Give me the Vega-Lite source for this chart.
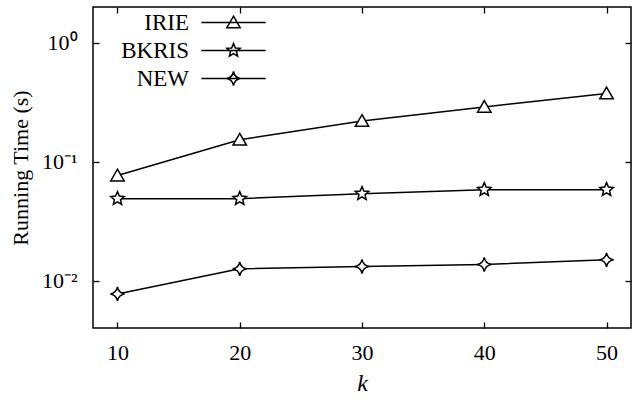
{
  "$schema": "https://vega.github.io/schema/vega-lite/v6.json",
  "width": 538,
  "height": 321,
  "autosize": {"type": "none"},
  "padding": {"left": 93, "top": 7, "right": 2, "bottom": 75},
  "background": "white",
  "config": {
    "view": {"stroke": "black", "strokeWidth": 1.5},
    "font": "Liberation Serif, Times New Roman, serif",
    "axis": {
      "labelFont": "Liberation Serif, Times New Roman, serif",
      "labelFontSize": 22,
      "labelColor": "black",
      "tickColor": "black",
      "tickWidth": 1.3,
      "tickSize": -6,
      "domain": false,
      "grid": false,
      "titleFont": "Liberation Serif, Times New Roman, serif",
      "titleFontSize": 22,
      "titleFontWeight": "normal",
      "titleColor": "black"
    },
    "legend": {
      "labelFont": "Liberation Serif, Times New Roman, serif",
      "labelFontSize": 23,
      "labelColor": "black"
    }
  },
  "data": {
    "values": [
      {"method": "IRIE", "k": 10, "time": 0.0765},
      {"method": "IRIE", "k": 20, "time": 0.153},
      {"method": "IRIE", "k": 30, "time": 0.220},
      {"method": "IRIE", "k": 40, "time": 0.289},
      {"method": "IRIE", "k": 50, "time": 0.375},
      {"method": "BKRIS", "k": 10, "time": 0.0489},
      {"method": "BKRIS", "k": 20, "time": 0.0489},
      {"method": "BKRIS", "k": 30, "time": 0.0539},
      {"method": "BKRIS", "k": 40, "time": 0.0582},
      {"method": "BKRIS", "k": 50, "time": 0.0582},
      {"method": "NEW", "k": 10, "time": 0.00774},
      {"method": "NEW", "k": 20, "time": 0.01257},
      {"method": "NEW", "k": 30, "time": 0.01315},
      {"method": "NEW", "k": 40, "time": 0.01367},
      {"method": "NEW", "k": 50, "time": 0.01497}
    ]
  },
  "layer": [
    {
      "mark": {"type": "line", "color": "black", "strokeWidth": 1.5},
      "encoding": {
        "x": {"field": "k", "type": "quantitative", "scale": {"domain": [8, 52], "nice": false, "zero": false},
          "axis": {"orient": "top", "labels": false, "title": null, "values": [10, 20, 30, 40, 50]}},
        "y": {"field": "time", "type": "quantitative", "scale": {"type": "log", "domain": [0.004, 2], "nice": false},
          "axis": {"orient": "right", "labels": false, "title": null, "values": [0.01, 0.1, 1]}},
        "detail": {"field": "method", "type": "nominal"}
      }
    },
    {
      "mark": {"type": "point", "filled": true, "fill": "white", "stroke": "black", "strokeWidth": 1.5, "size": 200, "opacity": 1},
      "encoding": {
        "x": {"field": "k", "type": "quantitative",
          "axis": {"orient": "bottom", "title": "k", "titleFontStyle": "italic", "titleFontSize": 24, "values": [10, 20, 30, 40, 50], "labelPadding": 20, "titlePadding": 8}},
        "y": {"field": "time", "type": "quantitative",
          "axis": {"orient": "left", "title": "Running Time (s)", "values": [0.01, 0.1, 1], "labelPadding": 22, "titlePadding": 9,
            "labelExpr": "datum.value >= 0.5 ? '10⁰' : datum.value >= 0.05 ? '10⁻¹' : '10⁻²'"}},
        "shape": {"field": "method", "type": "nominal",
          "scale": {"domain": ["IRIE", "BKRIS", "NEW"],
            "range": [
              "M0,-0.9L0.95,0.75L-0.95,0.75Z",
              "M0,-1L0.265,-0.364L0.951,-0.309L0.428,0.139L0.588,0.809L0,0.45L-0.588,0.809L-0.428,0.139L-0.951,-0.309L-0.265,-0.364Z",
              "M0,-1Q0.15,-0.15 1,0Q0.15,0.15 0,1Q-0.15,0.15 -1,0Q-0.15,-0.15 0,-1Z"
            ]},
          "legend": null}
      }
    },
    {
      "transform": [{"filter": "false"}],
      "mark": {"type": "point", "filled": false, "stroke": "black", "strokeWidth": 1.5, "size": 196, "opacity": 1},
      "encoding": {
        "shape": {"field": "method", "type": "nominal",
          "scale": {"domain": ["IRIE", "BKRIS", "NEW"],
            "range": [
              "M-4.6,0L4.6,0M0,-0.9L0.95,0.75L-0.95,0.75Z",
              "M-4.6,0L4.6,0M0,-1L0.265,-0.364L0.951,-0.309L0.428,0.139L0.588,0.809L0,0.45L-0.588,0.809L-0.428,0.139L-0.951,-0.309L-0.265,-0.364Z",
              "M-4.6,0L4.6,0M0,-1Q0.15,-0.15 1,0Q0.15,0.15 0,1Q-0.15,0.15 -1,0Q-0.15,-0.15 0,-1Z"
            ]},
          "legend": {
            "title": null,
            "orient": "none",
            "legendX": 129,
            "legendY": 4,
            "padding": 0,
            "symbolSize": 196,
            "symbolStrokeWidth": 1.5,
            "labelAlign": "right",
            "labelOffset": -56,
            "rowPadding": 4,
            "encode": {
              "symbols": {"update": {"fill": {"value": "white"}, "stroke": {"value": "black"}, "strokeWidth": {"value": 1.5}, "opacity": {"value": 1}}}
            }
          }}
      }
    }
  ],
  "resolve": {
    "axis": {"x": "independent", "y": "independent"},
    "scale": {"shape": "independent"},
    "legend": {"shape": "independent"}
  }
}
